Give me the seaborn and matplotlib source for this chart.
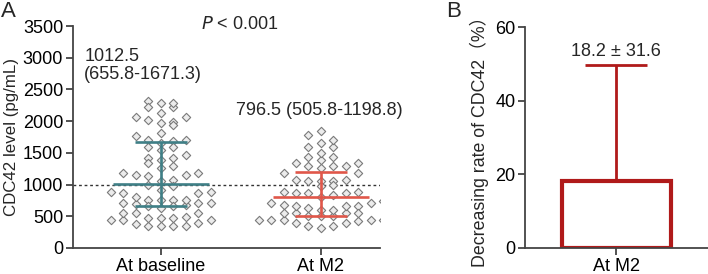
import numpy as np
import pandas as pd
import matplotlib
matplotlib.use("Agg")
import matplotlib.pyplot as plt
import seaborn as sns

# CDC42 level (pg/mL)
baseline = [760, 700, 490, 380,
            810, 710,
            2230, 2070, 1760, 1660, 1285, 1150, 1075, 865, 760, 655, 550, 445,
            2310, 1990, 1680, 1415, 1180, 1000, 760, 630, 445,
            2230, 2070, 1940, 1600, 1415, 1260, 1130, 970, 865, 680, 470, 340,
            2280, 2125, 1970, 1810, 1705, 1550, 1390, 1180, 1050, 890, 710, 550, 445, 340,
            2280, 2020, 1705, 1600, 1470, 1340, 1150, 890, 655, 470, 340,
            920, 710, 550, 390,
            760, 470, 340]
m2 = [445, 600, 445, 445, 340,
      1340, 1050, 865, 710, 550, 420,
      1650, 1440, 1260, 1075, 890, 710, 550, 390,
      1600, 1440, 1285, 970, 810, 655, 500, 315,
      1840, 1705, 1390, 1180, 1050, 840, 655, 445,
      1785, 1600, 1500, 1340, 1180, 1000, 865, 680, 500, 340,
      1285, 1075, 890, 735, 550, 445,
      1285, 1050, 865, 630, 445,
      655, 550, 390, 600, 500]

groups = ["At baseline", "At M2"]
medians = [1012.5, 796.5]
q1 = [655.8, 505.8]
q3 = [1671.3, 1198.8]
line_colors = ["#3f7f86", "#e0574a"]

rate_label = ["At M2"]
rate_mean = [18.2]
rate_sd = [31.6]


def binned_offsets(vals, binw=150, step=0.078):
    # GraphPad style scatter: points in the same value bin sit side by side
    vals = np.asarray(vals, dtype=float)
    off = np.zeros(len(vals))
    bins = np.floor(vals / binw)
    for b in np.unique(bins):
        idx = np.where(bins == b)[0]
        idx = idx[np.argsort(vals[idx])]
        for k, j in enumerate(idx):
            n = (k + 1) // 2
            off[j] = n * step * (1 if k % 2 else -1) if k else 0.0
    return off


rows = []
for gi, vals in enumerate([baseline, m2]):
    off = binned_offsets(vals)
    for v, o in zip(vals, off):
        rows.append({"group": groups[gi], "x": gi + o, "value": v})
df = pd.DataFrame(rows)

sns.set_style("ticks")
plt.rcParams["font.family"] = ["Liberation Sans", "Noto Sans CJK SC", "DejaVu Sans"]
plt.rcParams["font.size"] = 13

fig = plt.figure(figsize=(7.08, 2.74), dpi=100)
axA = fig.add_axes([0.103, 0.095, 0.434, 0.81])
axB = fig.add_axes([0.7415, 0.095, 0.258, 0.806])

# panel A
sns.scatterplot(data=df, x="x", y="value", ax=axA, marker="D", s=18,
                color="#ececec", edgecolor="#7a7a7a", linewidth=0.8, zorder=3)
axA.axhline(1000, color="#333333", linestyle=(0, (2, 2)), linewidth=1.0, zorder=2)
for i in range(len(groups)):
    axA.hlines(medians[i], i - 0.3, i + 0.3, color=line_colors[i], lw=1.9, zorder=5)
    axA.hlines([q1[i], q3[i]], i - 0.16, i + 0.16, color=line_colors[i], lw=1.9, zorder=5)
    axA.vlines(i, q1[i], q3[i], color=line_colors[i], lw=1.9, zorder=5)

axA.set_xlim(-0.55, 1.37)
axA.set_ylim(0, 3500)
axA.set_xticks([0, 1])
axA.set_xticklabels(groups)
axA.set_yticks(np.arange(0, 3501, 500))
axA.set_xlabel("")
axA.set_ylabel("CDC42 level (pg/mL)", fontsize=12.2, labelpad=3)
axA.text(0.49, 3530, "$\\it{P}$ < 0.001", ha="center", va="center", fontsize=13)
axA.text(-0.48, 2880, "1012.5\n(655.8-1671.3)", ha="left", va="center", fontsize=13, linespacing=1.1)
axA.text(0.99, 2030, "796.5 (505.8-1198.8)", ha="center", va="bottom", fontsize=13)
fig.text(0.002, 0.995, "A", fontsize=16, va="top")

# panel B
sns.barplot(x=rate_label, y=rate_mean, ax=axB, width=0.6, color="white",
            saturation=1, edgecolor="#b01a1a", linewidth=3.0, errorbar=None)
axB.errorbar(0, rate_mean[0], yerr=[[0], rate_sd], color="#b01a1a",
             elinewidth=2.0, capsize=22, capthick=2.0, fmt="none")
axB.set_xlim(-0.5, 0.5)
axB.set_ylim(0, 60)
axB.set_yticks([0, 20, 40, 60])
axB.set_ylabel("Decreasing rate of CDC42（%）", fontsize=12.8)
axB.text(0, 53.5, "18.2 ± 31.6", ha="center", va="center", fontsize=13)
fig.text(0.630, 0.995, "B", fontsize=16, va="top")

for ax in (axA, axB):
    sns.despine(ax=ax)
    for s in ("left", "bottom"):
        ax.spines[s].set_color("#444444")
        ax.spines[s].set_linewidth(1.3)
    ax.tick_params(axis="both", colors="#444444", labelcolor="black",
                   labelsize=13, length=5, width=1.3, pad=2)

fig.savefig("out.png", dpi=100)
